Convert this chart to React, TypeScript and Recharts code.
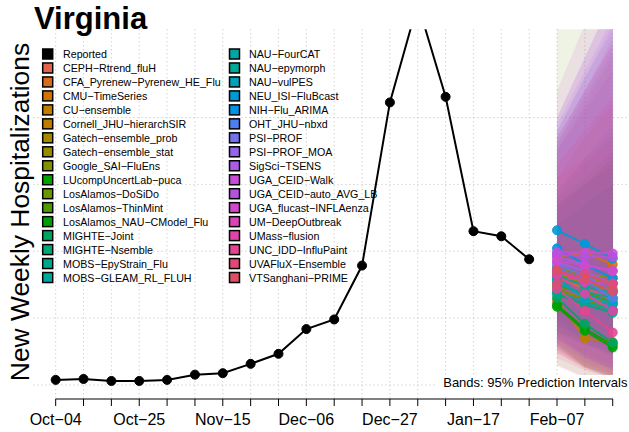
import { ComposedChart, Line, Area, XAxis, YAxis, CartesianGrid, ReferenceLine } from 'recharts'

const FONT = '"Liberation Sans", Arial, Helvetica, sans-serif'

// weeks are numbered from Oct-04 (0) to Feb-21 (20)
const weekTicks = [0, 1, 2, 3, 4, 5, 6, 7, 8, 9, 10, 11, 12, 13, 14, 15, 16, 17, 18, 19, 20]
const labelWeeks = [0, 3, 6, 9, 12, 15, 18]
const tickLabels = ['Oct−04', 'Oct−25', 'Nov−15', 'Dec−06', 'Dec−27', 'Jan−17', 'Feb−07']
const gridValues = [0, 500, 1000, 1500, 2000]

// reported hospitalizations, Oct-04 .. Jan-31
const reported = [38, 45, 30, 30, 38, 77, 88, 158, 233, 418, 490, 893, 2113, 2853, 2155, 1150, 1112, 940]

// forecast weeks: Feb-07, Feb-14, Feb-21
const forecastWeeks = [18, 19, 20]

const modelNames = [
  'CEPH−Rtrend_fluH', 'CFA_Pyrenew−Pyrenew_HE_Flu', 'CMU−TimeSeries', 'CU−ensemble',
  'Cornell_JHU−hierarchSIR', 'Gatech−ensemble_prob', 'Gatech−ensemble_stat', 'Google_SAI−FluEns',
  'LUcompUncertLab−puca', 'LosAlamos−DoSiDo', 'LosAlamos−ThinMint', 'LosAlamos_NAU−CModel_Flu',
  'MIGHTE−Joint', 'MIGHTE−Nsemble', 'MOBS−EpyStrain_Flu', 'MOBS−GLEAM_RL_FLUH',
  'NAU−FourCAT', 'NAU−epymorph', 'NAU−vulPES', 'NEU_ISI−FluBcast',
  'NIH−Flu_ARIMA', 'OHT_JHU−nbxd', 'PSI−PROF', 'PSI−PROF_MOA',
  'SigSci−TSENS', 'UGA_CEID−Walk', 'UGA_CEID−auto_AVG_LB', 'UGA_flucast−INFLAenza',
  'UM−DeepOutbreak', 'UMass−flusion', 'UNC_IDD−InfluPaint', 'UVAFluX−Ensemble',
  'VTSanghani−PRIME',
]

const modelColors = [
  '#E0654F', '#D96A1E', '#CF7400', '#C47C00',
  '#BD7E00', '#A48800', '#968C00', '#849000',
  '#00A200', '#6E9400', '#4E9A00', '#00A000',
  '#00A460', '#00A678', '#00A68C', '#00A69C',
  '#00A6A4', '#00A698', '#00A2BC', '#0099D6',
  '#0092E4', '#4D80EE', '#7470EE', '#9566EC',
  '#AC5CE4', '#C84CD8', '#B552DE', '#D248CC',
  '#DA44BA', '#E044A6', '#E24690', '#E04A78',
  '#DC5064',
]

const medians = [
  [800, 720, 640], [780, 740, 700], [960, 990, 900], [700, 650, 610],
  [630, 350, 320], [850, 800, 760], [830, 760, 720], [870, 830, 800],
  [585, 405, 280], [720, 640, 560], [740, 690, 620], [600, 420, 300],
  [652, 457, 317], [680, 600, 540], [790, 700, 650], [820, 740, 690],
  [760, 680, 610], [700, 620, 560], [795, 645, 600], [1157, 1055, 945],
  [1022, 900, 800], [880, 780, 652], [900, 820, 700], [920, 850, 760],
  [960, 900, 850], [992, 990, 983], [980, 960, 955], [930, 892, 855],
  [855, 767, 757], [820, 683, 555], [720, 555, 392], [760, 832, 757],
  [860, 790, 700],
]

const lowers = [
  [450, 340, 260], [470, 380, 300], [560, 470, 370], [400, 310, 240],
  [300, 130, 80], [500, 410, 330], [490, 400, 330], [500, 410, 340],
  [280, 130, 60], [150, 60, 20], [420, 340, 260], [300, 140, 60],
  [380, 210, 110], [390, 300, 230], [450, 350, 280], [470, 360, 280],
  [410, 310, 220], [390, 300, 230], [450, 320, 240], [600, 430, 300],
  [480, 320, 210], [340, 210, 120], [320, 190, 110], [340, 210, 120],
  [350, 230, 150], [270, 150, 70], [360, 230, 140], [300, 170, 90],
  [240, 120, 50], [260, 130, 50], [140, 50, 0], [200, 110, 40],
  [240, 130, 50],
]

const uppers = [
  [1350, 1500, 1650], [1300, 1500, 1700], [1550, 1850, 2100], [1200, 1350, 1500],
  [1100, 1000, 1050], [1400, 1550, 1700], [1350, 1500, 1650], [1450, 1650, 1850],
  [1200, 1250, 1300], [2900, 3200, 3500], [1300, 1500, 1700], [1100, 1150, 1200],
  [1050, 950, 900], [1200, 1350, 1500], [1350, 1550, 1750], [1450, 1700, 1950],
  [1400, 1650, 1900], [1200, 1400, 1600], [1350, 1500, 1650], [1900, 2300, 2650],
  [1800, 2150, 2500], [1750, 2050, 2350], [1850, 2200, 2550], [1950, 2350, 2750],
  [2000, 2450, 2900], [2200, 2700, 3200], [2000, 2450, 2900], [1900, 2300, 2700],
  [1800, 2200, 2600], [1650, 1900, 2150], [1550, 1700, 1850], [1750, 2100, 2450],
  [1850, 2200, 2550],
]

const rows = weekTicks.map(w => {
  const row: Record<string, any> = { week: w }
  if (w < reported.length) row.reported = reported[w]
  const k = forecastWeeks.indexOf(w)
  if (k >= 0) {
    modelNames.forEach((_, i) => {
      row[`m${i}`] = medians[i][k]
      row[`b${i}`] = [lowers[i][k], uppers[i][k]]
    })
  }
  return row
})

const legendItems = [{ name: 'Reported', color: '#000000' }].concat(
  modelNames.map((name, i) => ({ name, color: modelColors[i] }))
)

export default function App() {
  return (
    <div style={{ position: 'absolute', left: 0, top: 0, width: 629, height: 432, overflow: 'hidden', background: '#fff' }}>
      <ComposedChart width={640} height={432} data={rows} margin={{ top: 29.3, right: 5, bottom: 0, left: 33.4 }}>
        <CartesianGrid
          stroke="#BEBEBE"
          strokeDasharray="1 3"
          horizontalValues={gridValues}
          verticalValues={weekTicks}
        />
        <XAxis
          type="number"
          dataKey="week"
          domain={[-0.8, 20.8]}
          ticks={weekTicks}
          interval={0}
          allowDataOverflow
          height={33}
          axisLine={false}
          tickLine={{ stroke: '#000' }}
          tickSize={7}
          tickMargin={8}
          tick={{ fontSize: 16, fill: '#000', fontFamily: FONT }}
          tickFormatter={v => {
            const k = labelWeeks.indexOf(v)
            return k >= 0 ? tickLabels[k] : ''
          }}
        />
        <YAxis hide type="number" domain={[-105, 2660]} allowDataOverflow />
        <ReferenceLine segment={[{ x: 0, y: -105 }, { x: 20, y: -105 }]} stroke="#000" ifOverflow="visible" />

        {modelNames.map((name, i) => (
          <Area
            key={`b${i}`}
            dataKey={`b${i}`}
            stroke="none"
            fill={modelColors[i]}
            fillOpacity={0.11}
            dot={false}
            activeDot={false}
            isAnimationActive={false}
          />
        ))}

        <Line
          dataKey="reported"
          stroke="#000"
          strokeWidth={2}
          dot={{ r: 4.5, fill: '#000', stroke: '#000', strokeWidth: 1 }}
          activeDot={false}
          isAnimationActive={false}
        />

        {modelNames.map((name, i) => (
          <Line
            key={`m${i}`}
            dataKey={`m${i}`}
            stroke={modelColors[i]}
            strokeWidth={2}
            strokeOpacity={0.9}
            dot={{ r: 4.5, fill: modelColors[i], stroke: modelColors[i], strokeWidth: 1, fillOpacity: 0.9 }}
            activeDot={false}
            isAnimationActive={false}
          />
        ))}
      </ComposedChart>

      <svg width={629} height={432} style={{ position: 'absolute', left: 0, top: 0, pointerEvents: 'none' }} fontFamily={FONT}>
        <text x={34} y={29.3} fontSize={31} fontWeight="bold" fill="#000">Virginia</text>
        <text x={28.5} y={212} fontSize={26.4} fill="#000" textAnchor="middle" transform="rotate(-90 28.5 212)">
          New Weekly Hospitalizations
        </text>
        {legendItems.map((item, j) => {
          const col = j < 17 ? 0 : 1
          const row = col === 0 ? j : j - 17
          const cy = 54 + row * 13.97
          const bx = col === 0 ? 42.7 : 229.5
          const tx = col === 0 ? 63 : 249
          return (
            <g key={item.name}>
              <rect x={bx} y={cy - 5} width={10} height={10} fill={item.color} stroke="#000" strokeWidth={1.5} />
              <text x={tx} y={cy + 4} fontSize={10.7} fill="#000">{item.name}</text>
            </g>
          )
        })}
        <rect x={436} y={375} width={193} height={21} fill="#fff" />
        <text x={627.5} y={387} fontSize={13} fill="#000" textAnchor="end">Bands: 95% Prediction Intervals</text>
      </svg>
    </div>
  )
}
